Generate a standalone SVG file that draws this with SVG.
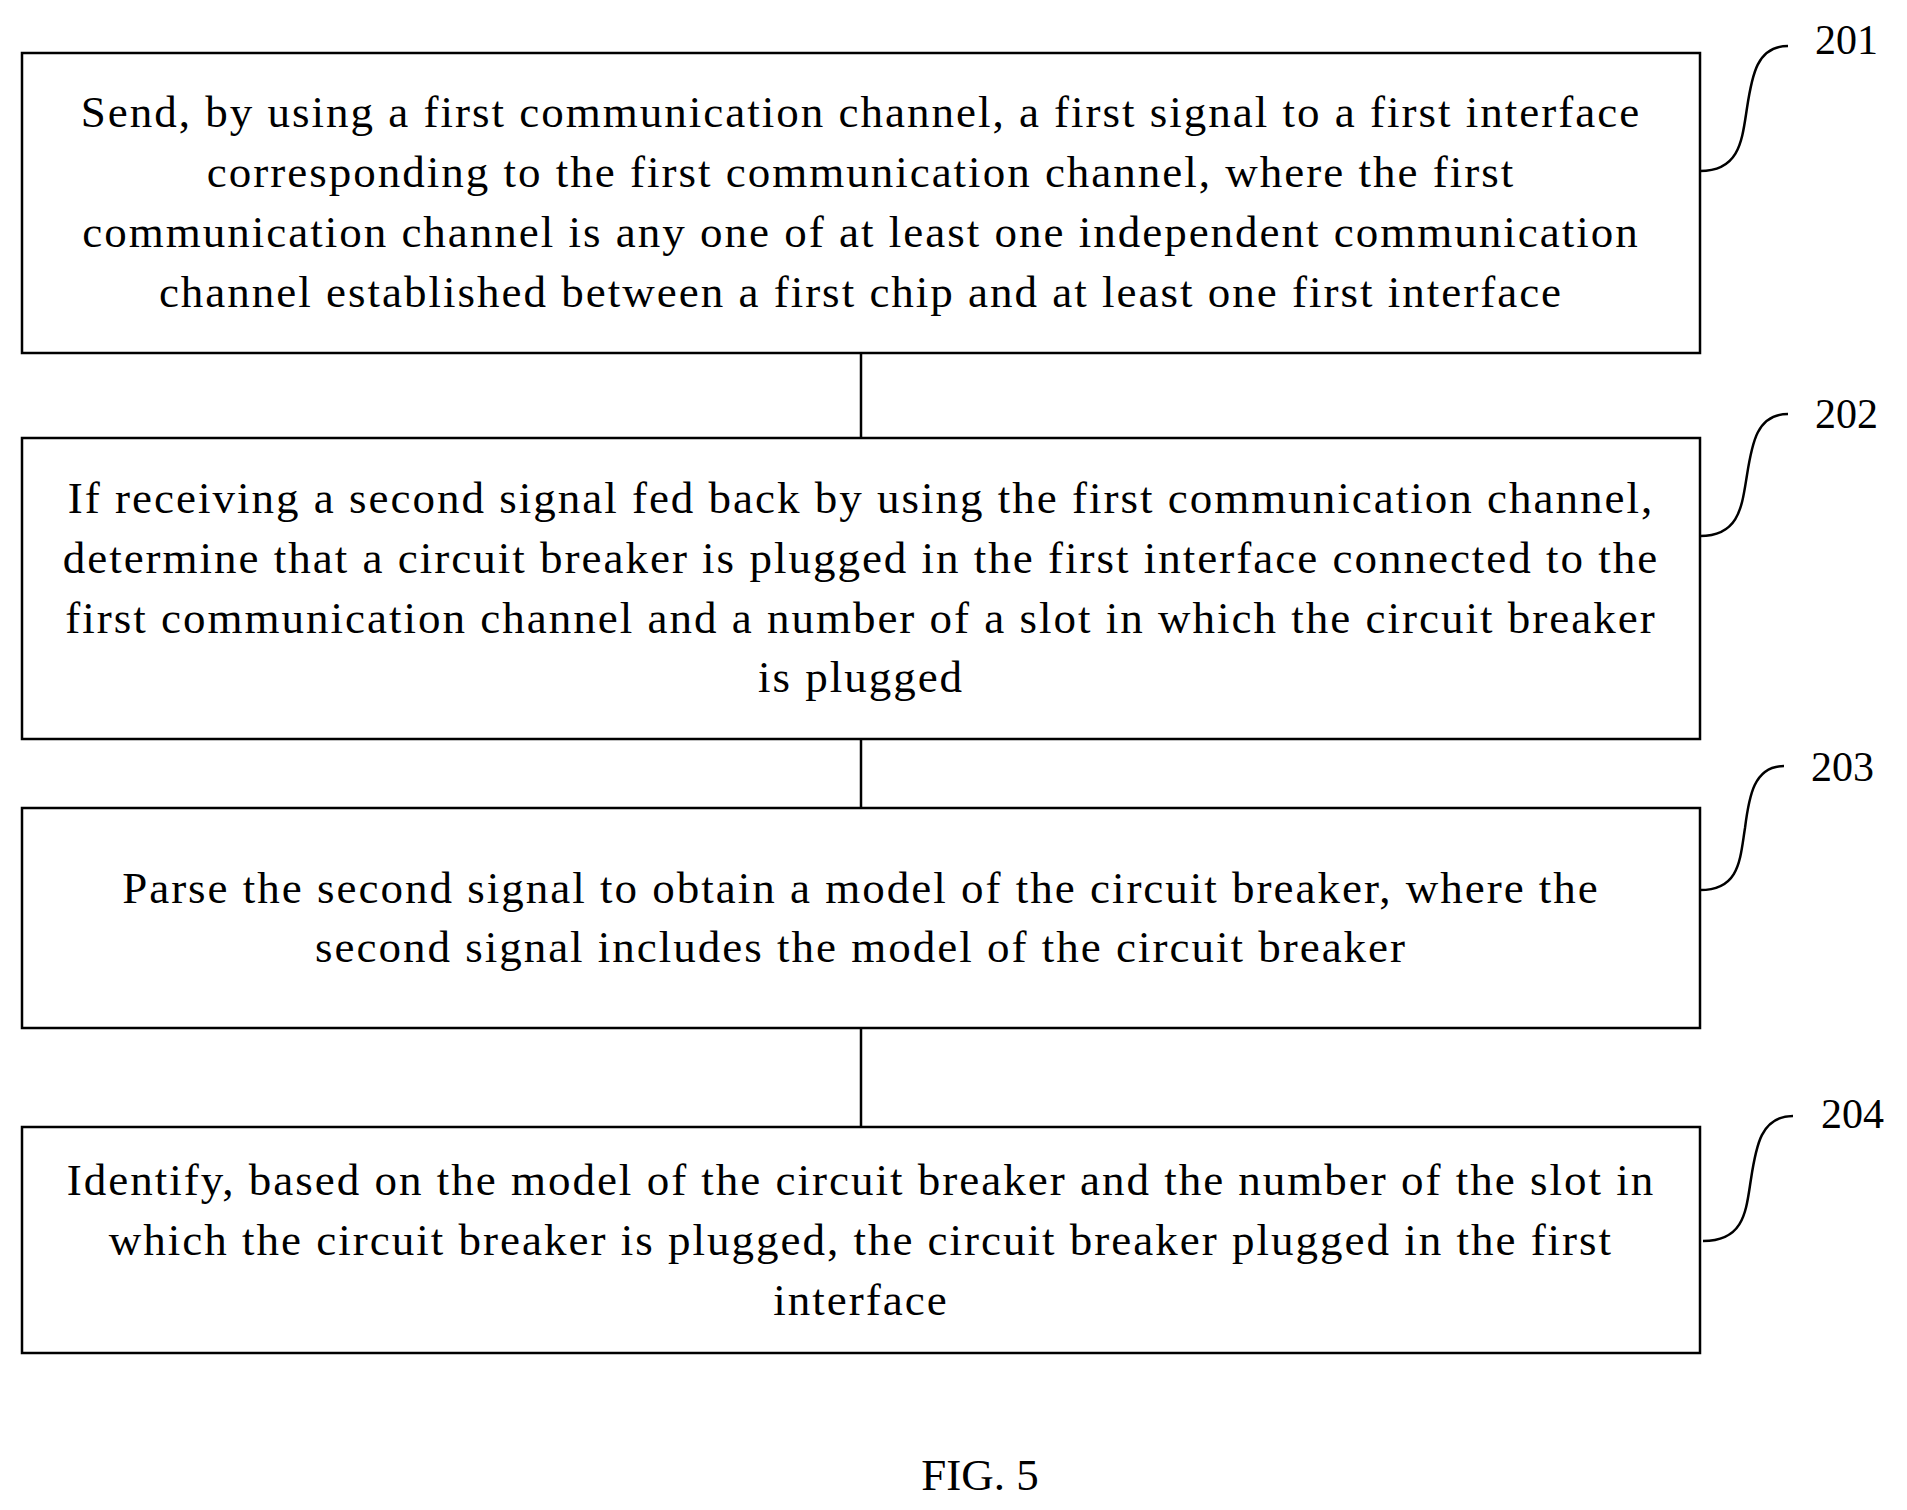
<svg xmlns="http://www.w3.org/2000/svg" width="1907" height="1510" viewBox="0 0 1907 1510">
<style>
rect{fill:#fff;stroke:#000;stroke-width:2.5}
text{font-family:"Liberation Serif",serif;font-size:45px;letter-spacing:2px;fill:#000;text-anchor:middle}
.l{text-anchor:start;font-size:42px;letter-spacing:0}
path,line{fill:none;stroke:#000;stroke-width:2.5}
</style>
<rect x="0" y="0" width="1907" height="1510" style="stroke:none"/>
<g id="connectors">
<line x1="861" y1="353" x2="861" y2="438"/>
<line x1="861" y1="739" x2="861" y2="808"/>
<line x1="861" y1="1028" x2="861" y2="1127"/>
<path d="M1700 171 C1740 171 1742 140 1747 108 C1752 75 1757 46 1788 46"/>
<path d="M1700 536 C1740 536 1742 505 1747 475 C1752 443 1757 414 1788 414"/>
<path d="M1700 890 C1740 890 1740 859 1745 828 C1749 796 1754 766 1784 766"/>
<path d="M1703 1241 C1745 1241 1746 1210 1751 1179 C1756 1146 1761 1116 1793 1116"/>
</g>
<g id="n201">
<rect x="22" y="53" width="1678" height="300"/>
<text x="861" y="127">Send, by using a first communication channel, a first signal to a first interface</text>
<text x="861" y="187">corresponding to the first communication channel, where the first</text>
<text x="861" y="247">communication channel is any one of at least one independent communication</text>
<text x="861" y="307">channel established between a first chip and at least one first interface</text>
<text class="l" x="1815" y="54">201</text>
</g>
<g id="n202">
<rect x="22" y="438" width="1678" height="301"/>
<text x="861" y="513">If receiving a second signal fed back by using the first communication channel,</text>
<text x="861" y="573">determine that a circuit breaker is plugged in the first interface connected to the</text>
<text x="861" y="633">first communication channel and a number of a slot in which the circuit breaker</text>
<text x="861" y="692">is plugged</text>
<text class="l" x="1815" y="428">202</text>
</g>
<g id="n203">
<rect x="22" y="808" width="1678" height="220"/>
<text x="861" y="903">Parse the second signal to obtain a model of the circuit breaker, where the</text>
<text x="861" y="962">second signal includes the model of the circuit breaker</text>
<text class="l" x="1811" y="781">203</text>
</g>
<g id="n204">
<rect x="22" y="1127" width="1678" height="226"/>
<text x="861" y="1195">Identify, based on the model of the circuit breaker and the number of the slot in</text>
<text x="861" y="1255">which the circuit breaker is plugged, the circuit breaker plugged in the first</text>
<text x="861" y="1315">interface</text>
<text class="l" x="1821" y="1128">204</text>
</g>
<text x="980" y="1490" style="letter-spacing:0">FIG. 5</text>
</svg>
